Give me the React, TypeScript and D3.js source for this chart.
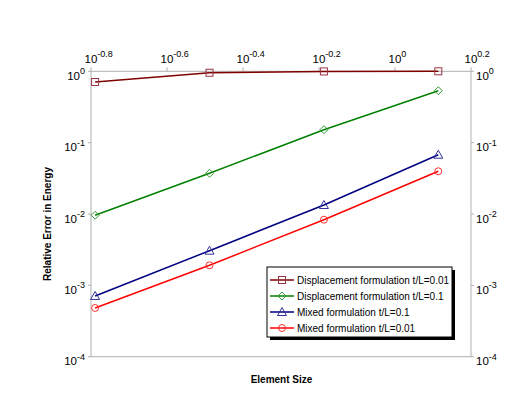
import React from "react";
import * as d3 from "d3";

const elementSizes = [0.1625, 0.325, 0.65, 1.3];
const dispThin = [0.708, 0.955, 0.995, 1.0];
const dispThick = [0.0096, 0.0372, 0.152, 0.535];
const mixedThick = [0.00071, 0.00306, 0.01337, 0.0678];
const mixedThin = [0.000482, 0.00191, 0.00832, 0.0397];

const seriesNames = [
  "Displacement formulation t/L=0.01",
  "Displacement formulation t/L=0.1",
  "Mixed formulation t/L=0.1",
  "Mixed formulation t/L=0.01",
];
const xTickExps = ["-0.8", "-0.6", "-0.4", "-0.2", "0", "0.2"];
const yTickExps = ["0", "-1", "-2", "-3", "-4"];

const W = 520, H = 394;
const L = 91, R = 471, T = 71.3, B = 356.7;
const FONT = "Arial, 'Liberation Sans', sans-serif";

const series = [
  { name: seriesNames[0], values: dispThin, line: "#800000", mark: "#993344", shape: "square" },
  { name: seriesNames[1], values: dispThick, line: "#008000", mark: "#339933", shape: "diamond" },
  { name: seriesNames[2], values: mixedThick, line: "#000080", mark: "#333399", shape: "triangle" },
  { name: seriesNames[3], values: mixedThin, line: "#ff0000", mark: "#ff3333", shape: "circle" },
];

function Marker({ shape, x, y, color }: { shape: string; x: number; y: number; color: string }) {
  const sw = 1;
  if (shape === "square") return <rect x={x - 3.5} y={y - 3.5} width={7} height={7} fill="none" stroke={color} strokeWidth={sw} />;
  if (shape === "diamond") return <path d={`M${x},${y - 4}L${x + 4},${y}L${x},${y + 4}L${x - 4},${y}Z`} fill="none" stroke={color} strokeWidth={sw} />;
  if (shape === "triangle") return <path d={`M${x},${y - 4.5}L${x + 4.5},${y + 3.5}L${x - 4.5},${y + 3.5}Z`} fill="none" stroke={color} strokeWidth={sw} />;
  return <circle cx={x} cy={y} r={3.5} fill="none" stroke={color} strokeWidth={sw} />;
}

function Pow({ x, y, exp, anchor }: { x: number; y: number; exp: string; anchor: "start" | "middle" | "end" }) {
  return (
    <text x={x} y={y} textAnchor={anchor} fontFamily={FONT} fontSize={11.5} fill="#000">
      <tspan>10</tspan>
      <tspan dy={-5.5} fontSize={9}>{exp}</tspan>
    </text>
  );
}

export default function App() {
  const x = d3.scaleLog().domain([Math.pow(10, -0.8), Math.pow(10, 0.2)]).range([L, R]);
  const y = d3.scaleLog().domain([1e-4, 1]).range([B, T]);
  const line = d3.line<number>().x((_, i) => x(elementSizes[i])).y((v) => y(v));
  const grey = "#b0b0b0";
  const legX = 267, legY = 267, legW = 185, legH = 70;

  return (
    <svg width={W} height={H} style={{ position: "absolute", left: 0, top: 0, background: "#fff" }}>
      <rect x={0} y={0} width={W} height={H} fill="#fff" />
      {/* frame */}
      <rect x={L} y={T} width={R - L} height={B - T} fill="none" stroke={grey} strokeWidth={1} />
      {/* top ticks and labels */}
      {xTickExps.map((e) => {
        const px = x(Math.pow(10, +e));
        return (
          <g key={"xt" + e}>
            <line x1={px} x2={px} y1={T} y2={T - 4} stroke={grey} />
            <text x={px - 6.5} y={62.5} fontFamily={FONT} fontSize={11.5}>
              <tspan>10</tspan>
              <tspan dy={-5.5} fontSize={9}>{e}</tspan>
            </text>
          </g>
        );
      })}
      {/* y ticks both sides */}
      {yTickExps.map((e) => {
        const py = y(Math.pow(10, +e));
        return (
          <g key={"yt" + e}>
            <line x1={L - 3} x2={L} y1={py} y2={py} stroke={grey} />
            <line x1={R} x2={R + 3} y1={py} y2={py} stroke={grey} />
            <Pow x={85} y={py + 8.5} exp={e} anchor="end" />
            <Pow x={476} y={py + 8.5} exp={e} anchor="start" />
          </g>
        );
      })}
      {/* series */}
      {series.map((s) => (
        <g key={s.name}>
          <path d={line(s.values) || ""} fill="none" stroke={s.line} strokeWidth={1.5} />
          {s.values.map((v, i) => (
            <Marker key={i} shape={s.shape} x={x(elementSizes[i])} y={y(v)} color={s.mark} />
          ))}
        </g>
      ))}
      {/* axis titles */}
      <text x={281.5} y={383} textAnchor="middle" fontFamily={FONT} fontSize={10} fontWeight="bold">Element Size</text>
      <text transform="translate(51,224) rotate(-90)" textAnchor="middle" fontFamily={FONT} fontSize={10} fontWeight="bold">Relative Error in Energy</text>
      {/* legend */}
      <rect x={legX + 3} y={legY + 3} width={legW} height={legH} fill="#000" />
      <rect x={legX} y={legY} width={legW} height={legH} fill="#fff" stroke="#000" strokeWidth={1} />
      {series.map((s, i) => {
        const ry = 280 + i * 16;
        return (
          <g key={"lg" + i}>
            <line x1={270} x2={294} y1={ry} y2={ry} stroke={s.line} strokeWidth={1.5} />
            <Marker shape={s.shape} x={282} y={ry} color={s.mark} />
            <text x={297} y={ry + 3.5} fontFamily={FONT} fontSize={10}>{s.name}</text>
          </g>
        );
      })}
    </svg>
  );
}
